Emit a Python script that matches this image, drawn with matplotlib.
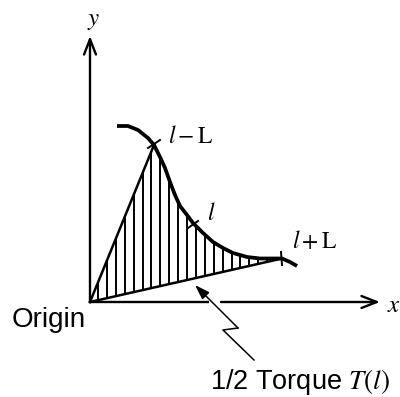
import matplotlib
matplotlib.use("Agg")
import matplotlib.pyplot as plt
import numpy as np
from matplotlib.patches import Polygon

plt.rcParams['mathtext.fontset'] = 'stix'
plt.rcParams['font.family'] = ['Liberation Sans', 'DejaVu Sans']

# torque density curve, measured from the origin (x right, y up)
curve_x = [27, 38, 48, 58, 64, 70, 75, 80, 85, 90, 97, 103, 113, 123, 133,
           143, 157, 170, 183, 192, 200, 207]
curve_y = [176, 176, 172, 164, 157, 145, 134, 120, 107, 96, 87, 79, 69, 60,
           54, 49, 45, 43.5, 43.5, 43.5, 40, 36]

# indices of l-L, l and l+L on the curve
i_lo, i_mid, i_hi = 4, 11, 19
point_labels = [r'$l-\mathrm{L}$', r'$l$', r'$l+\mathrm{L}$']

x_end, y_end = 290, 266
axis_gap = (119, 131)

fig = plt.figure(figsize=(4, 3.97), dpi=100)
ax = fig.add_axes([0, 0, 1, 1])
ax.set_xlim(-90, 310)
ax.set_ylim(-95, 302)
ax.axis('off')

axis_arrow = dict(arrowstyle='->,head_length=1.1,head_width=0.43', lw=1.7,
                  color='black', shrinkA=0, shrinkB=0)

# y axis
ax.annotate('', xy=(0, y_end), xytext=(0, 0), arrowprops=axis_arrow)
ax.text(4, 277, '$y$', fontsize=18, ha='center', va='baseline')

# x axis, broken where the pointer crosses it
ax.plot([0, axis_gap[0]], [0, 0], color='black', lw=1.7, solid_capstyle='butt')
ax.annotate('', xy=(x_end, 0), xytext=(axis_gap[1], 0), arrowprops=axis_arrow)
ax.text(304, -10, '$x$', fontsize=18, ha='center', va='baseline')

cx = np.array(curve_x, dtype=float)
cy = np.array(curve_y, dtype=float)

# hatched region: origin -> l-L, along the curve to l+L, back to origin
region = [(0, 0)] + list(zip(cx[i_lo:i_hi + 1], cy[i_lo:i_hi + 1]))
poly = Polygon(region, closed=True, facecolor='none', edgecolor='none')
ax.add_patch(poly)
for hx in 8 + 8.9 * np.arange(20):
    ln, = ax.plot([hx, hx], [-5, 200], color='black', lw=1.4)
    ln.set_clip_path(poly)

# triangle sides
ax.plot([0, cx[i_lo]], [0, cy[i_lo]], color='black', lw=1.8)
ax.plot([0, cx[i_hi]], [0, cy[i_hi]], color='black', lw=1.8)

# the curve
ax.plot(cx, cy, color='black', lw=2.7, solid_capstyle='butt',
        solid_joinstyle='round')

# cross ticks at l-L, l, l+L
ax.plot([58, 70], [154, 162], color='black', lw=1.4)
ax.plot([98, 108], [74, 81], color='black', lw=1.4)
ax.plot([191, 192], [50, 37], color='black', lw=1.4)

ax.text(78, 159, point_labels[0], fontsize=17, ha='left', va='baseline')
ax.text(117, 82, point_labels[1], fontsize=17, ha='left', va='baseline')
ax.text(202, 54, point_labels[2], fontsize=17, ha='left', va='baseline')

ax.text(-78, -25, 'Origin', fontsize=20, ha='left', va='baseline')

# zig-zag pointer to the hatched area
ax.plot([164, 133, 148], [-58, -28, -26], color='black', lw=1.1)
ax.annotate('', xy=(105, 17), xytext=(148, -26),
            arrowprops=dict(arrowstyle='-|>,head_length=0.9,head_width=0.3',
                            lw=1.1, color='black', shrinkA=0, shrinkB=0))
ax.text(120, -87, r'1/2 Torque $T(l)$', fontsize=19.5, ha='left',
        va='baseline')

fig.savefig('out.png', dpi=100)
